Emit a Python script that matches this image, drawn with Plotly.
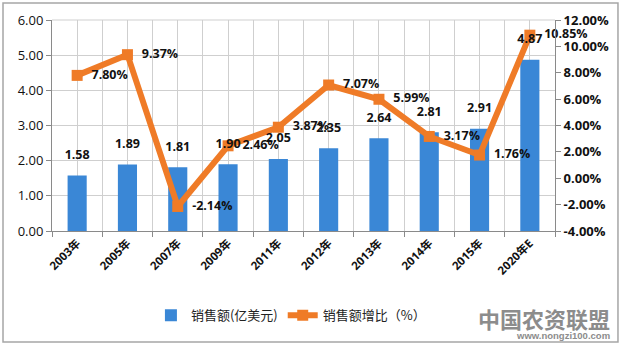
import plotly.graph_objects as go

categories = ["2003年", "2005年", "2007年", "2009年", "2011年", "2012年", "2013年", "2014年", "2015年", "2020年E"]
sales = [1.58, 1.89, 1.81, 1.90, 2.05, 2.35, 2.64, 2.81, 2.91, 4.87]
growth = [7.80, 9.37, -2.14, 2.46, 3.87, 7.07, 5.99, 3.17, 1.76, 10.85]
left_ticks = [0, 1, 2, 3, 4, 5, 6]
right_ticks = [-4, -2, 0, 2, 4, 6, 8, 10, 12]

xs = list(range(len(categories)))
FONT = "Open Sans, Noto Sans CJK SC, sans-serif"

fig = go.Figure()
fig.add_trace(go.Bar(
    x=xs, y=sales, name="销售额(亿美元)", width=0.38,
    marker=dict(color="#3a87d6", line=dict(width=0)),
    yaxis="y"))
fig.add_trace(go.Scatter(
    x=xs, y=growth, name="销售额增比（%）", mode="lines+markers+text",
    line=dict(color="#ef7b27", width=6),
    marker=dict(symbol="square", size=11, color="#ef7b27"),
    texttemplate="\u00a0\u00a0<b>%{y:.2f}%</b>", textposition="middle right", cliponaxis=False,
    textfont=dict(size=12.5, color="#111", family=FONT),
    yaxis="y2"))
# bar value labels, drawn on a third overlaying axis (same scale as y) so they sit above the line
fig.add_trace(go.Scatter(
    x=xs, y=sales, mode="markers+text", showlegend=False, hoverinfo="skip",
    marker=dict(size=20, opacity=0),
    texttemplate="<b>%{y:.2f}</b>", textposition="top center", cliponaxis=False,
    textfont=dict(size=12.5, color="#111", family=FONT),
    yaxis="y3"))

grid_col = "#cfcfcf"
fig.update_layout(
    width=621, height=345,
    margin=dict(l=52, r=66, t=20, b=114),
    paper_bgcolor="white", plot_bgcolor="white",
    font=dict(family=FONT, color="#111"),
    showlegend=True,
    legend=dict(orientation="h", x=0.475, xanchor="center", y=-0.40, yanchor="middle",
                font=dict(size=13, family="Noto Sans CJK SC, sans-serif", color="#222"),
                itemwidth=30),
    xaxis=dict(
        range=[-0.5, 9.5], tickmode="array", tickvals=xs, ticktext=["<b>%s</b>" % c for c in categories],
        tickangle=-45, tickfont=dict(size=11.5, family=FONT, color="#111"),
        showgrid=True, gridcolor=grid_col, gridwidth=1,
        showline=True, linecolor="#8a8a8a", linewidth=1,
        ticks="", zeroline=False,
        minor=dict(tickmode="array", tickvals=[i - 0.5 for i in range(len(categories) + 1)],
                   showgrid=True, gridcolor=grid_col, ticks="outside", ticklen=5, tickcolor="#8a8a8a"),
        mirror=False),
    yaxis=dict(
        range=[0, 6], tickmode="array", tickvals=left_ticks, tickformat=".2f",
        tickfont=dict(size=13, family=FONT, color="#111"), tickprefix="<b>", ticksuffix="</b>",
        showgrid=True, gridcolor=grid_col, showline=True, linecolor="#8a8a8a",
        ticks="outside", ticklen=5, tickcolor="#8a8a8a", zeroline=False),
    yaxis2=dict(
        range=[-4, 12], overlaying="y", side="right", tickmode="array", tickvals=right_ticks,
        ticktext=["<b>%.2f%%</b>" % v for v in right_ticks],
        tickfont=dict(size=13, family=FONT, color="#111"),
        showgrid=False, showline=True, linecolor="#8a8a8a",
        ticks="outside", ticklen=5, tickcolor="#8a8a8a", zeroline=False),
    yaxis3=dict(
        range=[0, 6], overlaying="y", visible=False, showgrid=False, zeroline=False),
    shapes=[
        dict(type="line", xref="paper", yref="paper", x0=0, x1=1, y0=1, y1=1,
             line=dict(color=grid_col, width=1)),
        dict(type="rect", xref="paper", yref="paper", x0=-0.0974, x1=1.1252, y0=-0.526, y1=1.0806,
             line=dict(color="#a6a6a6", width=1.5), layer="below"),
    ],
    annotations=[
        dict(text="<b>中国农资联盟</b>", xref="paper", yref="paper", x=1.113, y=-0.41,
             xanchor="right", yanchor="middle", showarrow=False,
             font=dict(size=22, color="#8c8c8c", family="Noto Sans CJK SC")),
        dict(text="<b>www.nongzi100.com</b>", xref="paper", yref="paper", x=1.113, y=-0.495,
             xanchor="right", yanchor="middle", showarrow=False,
             font=dict(size=9.5, color="#8c8c8c", family="Liberation Sans")),
    ],
)

fig.write_html("out.html")
